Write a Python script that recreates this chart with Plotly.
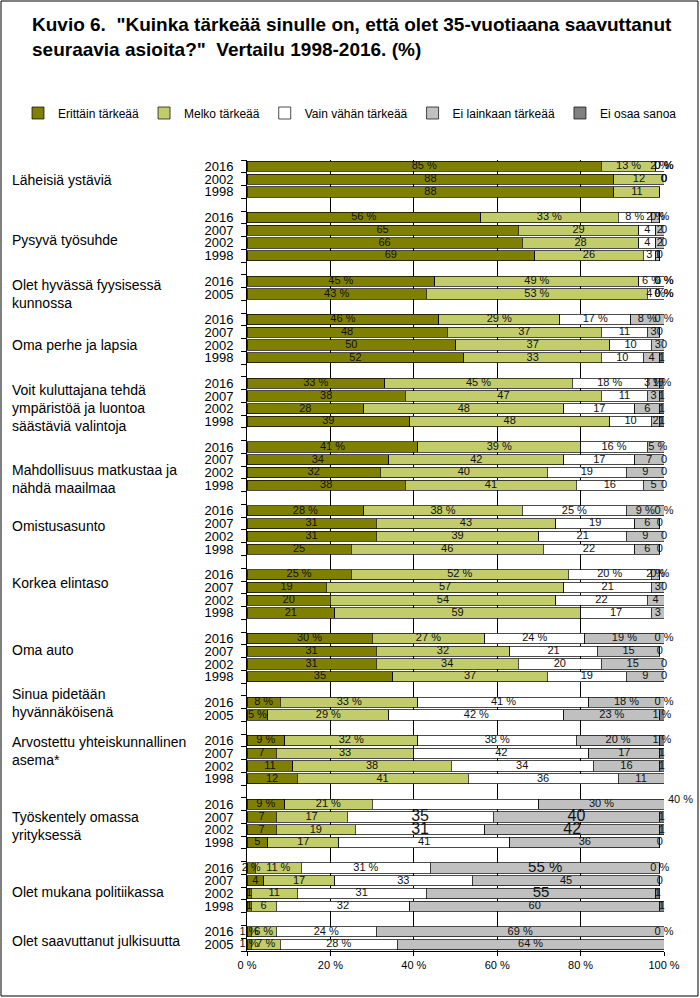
import plotly.graph_objects as go

# ---------------- data ----------------
groups = [
    "Läheisiä ystäviä",
    "Pysyvä työsuhde",
    "Olet hyvässä fyysisessä<br>kunnossa",
    "Oma perhe ja lapsia",
    "Voit kuluttajana tehdä<br>ympäristöä ja luontoa<br>säästäviä valintoja",
    "Mahdollisuus matkustaa ja<br>nähdä maailmaa",
    "Omistusasunto",
    "Korkea elintaso",
    "Oma auto",
    "Sinua pidetään<br>hyvännäköisenä",
    "Arvostettu yhteiskunnallinen<br>asema*",
    "Työskentely omassa<br>yrityksessä",
    "Olet mukana politiikassa",
    "Olet saavuttanut julkisuutta",
]
years = [
    [2016, 2002, 1998],
    [2016, 2007, 2002, 1998],
    [2016, 2005],
    [2016, 2007, 2002, 1998],
    [2016, 2007, 2002, 1998],
    [2016, 2007, 2002, 1998],
    [2016, 2007, 2002, 1998],
    [2016, 2007, 2002, 1998],
    [2016, 2007, 2002, 1998],
    [2016, 2005],
    [2016, 2007, 2002, 1998],
    [2016, 2007, 2002, 1998],
    [2016, 2007, 2002, 1998],
    [2016, 2005],
]
series_names = ["Erittäin tärkeää", "Melko tärkeää", "Vain vähän tärkeää",
                "Ei lainkaan tärkeää", "Ei osaa sanoa"]
erittain = [85, 88, 88, 56, 65, 66, 69, 45, 43, 46, 48, 50, 52, 33, 38, 28, 39,
            41, 34, 32, 38, 28, 31, 31, 25, 25, 19, 20, 21, 30, 31, 31, 35, 8, 5,
            9, 7, 11, 12, 9, 7, 7, 5, 2, 4, 1, 1, 1, 1]
melko = [13, 12, 11, 33, 29, 28, 26, 49, 53, 29, 37, 37, 33, 45, 47, 48, 48,
         39, 42, 40, 41, 38, 43, 39, 46, 52, 57, 54, 59, 27, 32, 34, 37, 33, 29,
         32, 33, 38, 41, 21, 17, 19, 17, 11, 17, 11, 6, 6, 7]
vain = [2, 0, None, 8, 4, 4, 3, 6, 4, 17, 11, 10, 10, 18, 11, 17, 10,
        16, 17, 19, 16, 25, 19, 21, 22, 20, 21, 22, 17, 24, 21, 20, 19, 41, 42,
        38, 42, 34, 36, 40, 35, 31, 41, 31, 33, 31, 32, 24, 28]
ei_lainkaan = [0, 0, None, 2, 2, 2, 1, 0, 0, 8, 3, 3, 4, 3, 3, 6, 2,
               5, 7, 9, 5, 9, 6, 9, 6, 2, 3, 4, 3, 19, 15, 15, 9, 18, 23,
               20, 17, 16, 11, 30, 40, 42, 36, 55, 45, 55, 60, 69, 64]
ei_osaa = [0, 0, None, 0, 0, 0, 0, 0, 0, 0, 0, 0, 1, 1, 1, 1, 1,
           0, 0, 0, 0, 0, 0, 0, 0, 0, 0, 1, 1, 0, 0, 0, 0, 0, 1,
           1, 1, 1, 1, 1, 1, 1, 0, 0, 0, 1, 1, 0, 1]
x_ticks = [0, 20, 40, 60, 80, 100]

# ---------------- styling / layout helpers ----------------
colors = ["#808000", "#C3CC6B", "#FFFFFF", "#C0C0C0", "#808080"]
label_offsets = [1.06, 1.76, 1.0, 2.0, 1.9, 2.5, 1.2, 0.67, 0.9, 0.1, 0.8, 1.7, 1.9, 0.7]
# (data-row index, series index) -> label font size  (oversized labels in the original)
big_labels = {(40, 2): 16, (40, 3): 16, (41, 2): 16, (41, 3): 16,
              (43, 3): 15, (45, 3): 15}
# label drawn outside the bar at the right edge in the original
outside_labels = {(39, 2)}
FONT = "Liberation Sans, Arial, sans-serif"
L, R, T, B = 247, 664, 160, 951   # plot-area edges in pixels


def px_x(p):
    return (p - L) / (R - L)


def px_y(p):
    return (B - p) / (B - T)


rows, tick_text, row_years, group_rows = [], [], [], []
r = 0
for g, yrs in zip(groups, years):
    group_rows.append(r)
    for y in yrs:
        rows.append(r)
        tick_text.append(str(y))
        row_years.append(y)
        r += 1
    r += 1
last_row = rows[-1]

all_series = [erittain, melko, vain, ei_lainkaan, ei_osaa]

fig = go.Figure()
for name, vals, col in zip(series_names, all_series, colors):
    fig.add_trace(go.Bar(
        y=rows, x=[v if v is not None else 0 for v in vals], orientation="h",
        name=name, width=0.8, hoverinfo="skip",
        marker=dict(color=col, line=dict(color="black", width=0.7)),
    ))

# data labels at segment centres
base = [0.0] * len(rows)
for s, vals in enumerate(all_series):
    xs, ys, ts, sz = [], [], [], []
    for i, v in enumerate(vals):
        if v is None:
            continue
        suffix = " %" if row_years[i] in (2016, 2005) else ""
        label = f"{v}{suffix}"
        if (i, s) in outside_labels:
            fig.add_annotation(
                text=label, x=100, y=rows[i], xref="x", yref="y", showarrow=False,
                xanchor="left", xshift=2, yshift=5,
                font=dict(family=FONT, size=11, color="#111111"))
        else:
            xs.append(base[i] + v / 2.0)
            ys.append(rows[i])
            ts.append(label)
            sz.append(big_labels.get((i, s), 11))
        base[i] += v
    fig.add_trace(go.Scatter(
        x=xs, y=ys, text=ts, mode="text", showlegend=False, hoverinfo="skip",
        textfont=dict(family=FONT, size=sz, color="#111111"), cliponaxis=False,
    ))

# group labels
for g, r0, off in zip(groups, group_rows, label_offsets):
    fig.add_annotation(
        text=g, xref="paper", x=px_x(10), yref="y", y=r0 + off,
        xanchor="left", yanchor="middle", align="left", showarrow=False,
        font=dict(family=FONT, size=14, color="black"),
    )

# title
fig.add_annotation(
    text='<b>Kuvio 6.  "Kuinka tärkeää sinulle on, että olet 35-vuotiaana saavuttanut<br>'
         'seuraavia asioita?"  Vertailu 1998-2016. (%)</b>',
    xref="paper", x=px_x(30), yref="paper", y=px_y(12),
    xanchor="left", yanchor="top", align="left", showarrow=False,
    font=dict(family=FONT, size=19, color="black"),
)

fig.update_layout(
    width=700, height=998,
    margin=dict(l=L, r=700 - R, t=T, b=998 - B, autoexpand=False),
    paper_bgcolor="white", plot_bgcolor="white",
    barmode="stack",
    font=dict(family=FONT, color="black"),
    legend=dict(
        orientation="h", x=px_x(18), xanchor="left",
        y=px_y(113), yanchor="middle", bgcolor="rgba(0,0,0,0)",
        font=dict(family=FONT, size=12), itemwidth=30, traceorder="normal",
    ),
    xaxis=dict(
        range=[0, 100], tickmode="array", tickvals=x_ticks,
        ticktext=[f"{v} %" for v in x_ticks],
        showgrid=True, gridcolor="black", gridwidth=1, zeroline=False,
        showline=True, linecolor="black", linewidth=1,
        ticks="outside", ticklen=4, tickcolor="black",
        tickfont=dict(family=FONT, size=11),
    ),
    yaxis=dict(
        range=[last_row + 0.5, -0.5], tickmode="array", tickvals=rows, ticktext=tick_text,
        ticks="", showgrid=False, zeroline=False,
        showline=True, linecolor="black", linewidth=1,
        tickfont=dict(family=FONT, size=13), ticklabelstandoff=10,
        minor=dict(tickmode="linear", tick0=-0.5, dtick=1, ticks="outside",
                   ticklen=5, tickcolor="black", showgrid=False),
    ),
    shapes=[dict(type="rect", xref="paper", yref="paper",
                 x0=px_x(1), x1=px_x(698), y0=px_y(996), y1=px_y(1),
                 line=dict(color="black", width=1))],
)

fig.write_html("out.html", config={"displayModeBar": False},
               post_script="document.body.style.margin='0px';")
